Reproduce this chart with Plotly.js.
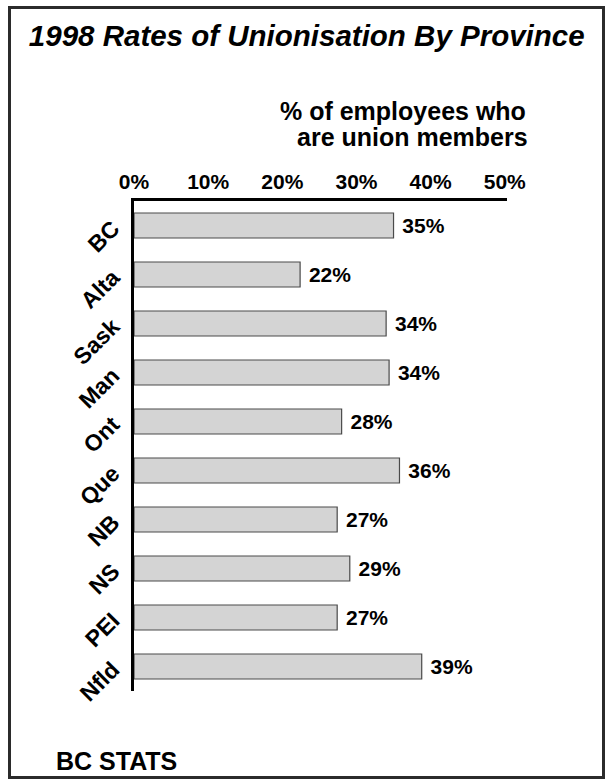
<!DOCTYPE html>
<html>
<head>
<meta charset="utf-8">
<script src="https://cdn.plot.ly/plotly-3.0.1.min.js"></script>
<style>
  html, body { margin: 0; padding: 0; background: #fff; }
  #wrap { position: relative; width: 605px; height: 780px; }
  #chart { position: absolute; left: 0; top: 0; width: 605px; height: 780px; }
  #frame { position: absolute; left: 8px; top: 6px; width: 597px; height: 773px;
           border: 3px solid #2b2b2b; box-sizing: border-box; pointer-events: none; }
</style>
</head>
<body>
<div id="wrap">
  <div id="chart"></div>
  <div id="frame"></div>
</div>
<script>
const provinces = ["BC", "Alta", "Sask", "Man", "Ont", "Que", "NB", "NS", "PEI", "Nfld"];
const unionRates = [35.0, 22.4, 34.0, 34.4, 28.0, 35.8, 27.4, 29.1, 27.4, 38.8];
const rateLabels = ["35%", "22%", "34%", "34%", "28%", "36%", "27%", "29%", "27%", "39%"];
const tickValues = [0, 10, 20, 30, 40, 50];
const tickLabels = ["0%", "10%", "20%", "30%", "40%", "50%"];

const FONT = "Liberation Sans, Arial, Helvetica, sans-serif";

const trace = {
  type: "bar",
  orientation: "h",
  y: provinces,
  x: unionRates,
  text: rateLabels.map(t => "\u00a0" + t),
  textposition: "outside",
  textfont: { family: FONT, size: 21, color: "#000", weight: "bold" },
  constraintext: "none",
  cliponaxis: false,
  marker: { color: "#d4d4d4", line: { color: "#4a4a4a", width: 1.2 } },
  hoverinfo: "none"
};

const layout = {
  width: 605,
  height: 780,
  margin: { l: 134, r: 98, t: 201, b: 89, pad: 0 },
  paper_bgcolor: "#fff",
  plot_bgcolor: "#fff",
  showlegend: false,
  bargap: 0.49,
  font: { family: FONT, color: "#000" },
  title: {
    text: "1998 Rates of Unionisation By Province",
    font: { family: FONT, size: 29.5, weight: "bold", style: "italic", color: "#000" },
    xref: "container", x: 0.507, xanchor: "center",
    yref: "container", y: 1 - 36 / 780, yanchor: "middle"
  },
  xaxis: {
    side: "top",
    range: [0, 50.3],
    tickvals: tickValues,
    ticktext: tickLabels,
    tickfont: { family: FONT, size: 21, weight: "bold", color: "#000" },
    ticks: "",
    showgrid: false,
    zeroline: false,
    showline: true,
    linecolor: "#000",
    linewidth: 3.5,
    automargin: false,
    fixedrange: true
  },
  yaxis: {
    autorange: "reversed",
    type: "category",
    tickangle: -45,
    ticklabelstandoff: 13,
    tickfont: { family: FONT, size: 23, weight: "bold", color: "#000" },
    ticks: "",
    showgrid: false,
    zeroline: false,
    showline: true,
    linecolor: "#000",
    linewidth: 3.5,
    automargin: false,
    fixedrange: true
  },
  annotations: [
    {
      text: "% of employees who",
      xref: "paper", yref: "paper",
      x: (528 - 134) / 373, y: (691 - 111) / 490,
      xanchor: "right", yanchor: "middle", showarrow: false,
      font: { family: FONT, size: 25, weight: "bold", color: "#000" }
    },
    {
      text: "are union members",
      xref: "paper", yref: "paper",
      x: (530 - 134) / 373, y: (691 - 137) / 490,
      xanchor: "right", yanchor: "middle", showarrow: false,
      font: { family: FONT, size: 25, weight: "bold", color: "#000" }
    },
    {
      text: "BC STATS",
      xref: "paper", yref: "paper",
      x: (54 - 134) / 373, y: (691 - 761) / 490,
      xanchor: "left", yanchor: "middle", showarrow: false,
      font: { family: FONT, size: 25, weight: "bold", color: "#000" }
    }
  ]
};

Plotly.newPlot("chart", [trace], layout, { staticPlot: true, displayModeBar: false });
</script>
</body>
</html>
